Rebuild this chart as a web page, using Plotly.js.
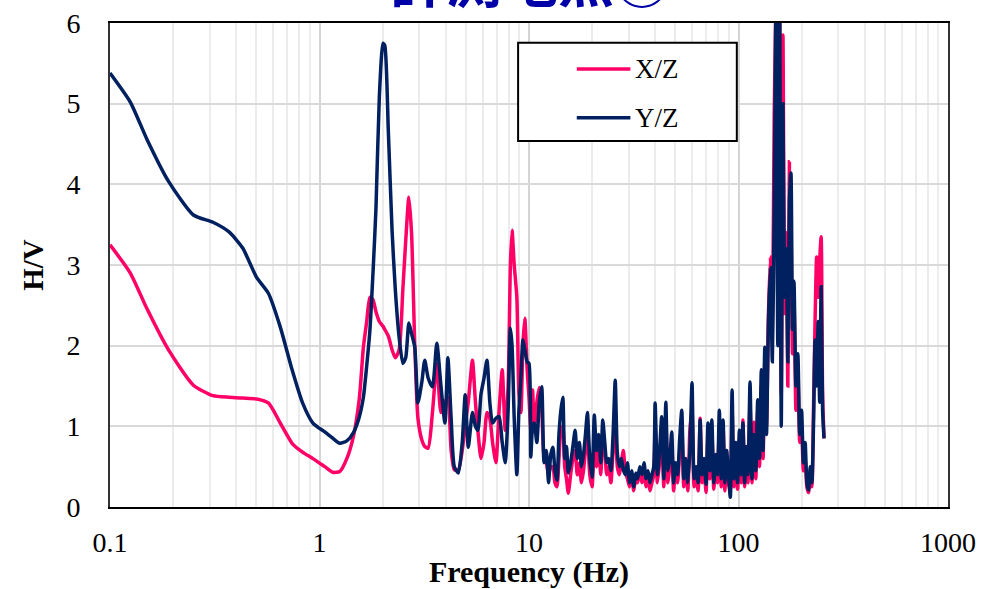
<!DOCTYPE html>
<html>
<head>
<meta charset="utf-8">
<script src="https://cdn.plot.ly/plotly-3.0.1.min.js"></script>
<style>
html,body{margin:0;padding:0;background:#fff;}
#chart{width:983px;height:589px;}
</style>
</head>
<body>
<div id="chart"></div>
<script>
// ---- data ----
const chartTitle = "計測地点③";
const seriesNames = ["X/Z", "Y/Z"];
const xTickVals = [0.1, 1, 10, 100, 1000];
const xTickText = ["0.1", "1", "10", "100", "1000"];

const freqHz = [
  0.10, 0.125, 0.15, 0.19, 0.25, 0.31, 0.37, 0.43, 0.50, 0.57, 0.65, 0.74, 0.83, 0.93, 1.06, 1.16, 1.25, 1.35, 1.45,
  1.55, 1.62, 1.68, 1.74, 1.80, 1.86, 1.93, 2.01, 2.05, 2.13, 2.22, 2.30, 2.40, 2.50, 2.58, 2.67, 2.75, 2.85, 2.95, 3.08,
  3.18, 3.30, 3.46, 3.63, 3.80, 3.97, 4.10, 4.25, 4.40, 4.60, 4.80, 4.96, 5.13, 5.37, 5.55, 5.70, 5.90, 6.10, 6.30, 6.50,
  6.70, 6.95, 7.20, 7.45, 7.70, 7.95, 8.15, 8.30, 8.50, 8.75, 8.95, 9.15, 9.35, 9.55, 9.80,
  10.0, 10.2, 10.4, 10.6, 10.9, 11.2, 11.5, 11.8, 12.1, 12.4, 12.7, 13.0, 13.3, 13.6, 13.9, 14.2, 14.5, 14.8, 15.1, 15.4,
  15.8, 16.2, 16.6, 17.0, 17.4, 17.8, 18.2, 18.6, 19.0, 19.5, 20.0, 20.5, 21.0, 21.5, 22.0, 22.5, 23.0, 23.5, 24.0, 24.6,
  25.2, 25.8, 26.4, 27.0, 27.6, 28.2, 28.8, 29.5, 30.2, 30.9, 31.6, 32.3, 33.0, 33.8, 34.6, 35.4, 36.2, 37.0, 37.8, 38.6, 39.4,
  40, 41, 42, 43, 44, 45, 46, 47, 48, 49, 50, 51.2, 52.4, 53.6, 54.8, 56, 57.3, 58.6, 60, 61.4, 62.8, 64.2, 65.6, 67,
  68.5, 70, 71.5, 73, 74.6, 76.2, 77.8, 79.4, 81, 82.7, 84.4, 86.1, 87.8, 89.6, 91.4, 93.2, 95, 97, 99, 101, 103, 105, 107, 109, 111,
  113.5, 116, 118.5, 121, 123.5, 126, 128.5, 131, 133.5, 136, 139, 142, 145, 148, 151, 154, 157, 160, 163, 166, 169, 172, 175, 178, 181, 184,
  188, 192, 196, 200, 204, 208, 212, 216, 220, 224, 228, 232, 236, 240, 244, 248, 252, 256
];

const xzRatio = [
  3.25, 2.90, 2.46, 1.95, 1.51, 1.38, 1.36, 1.35, 1.34, 1.29, 1.04, 0.79, 0.68, 0.60, 0.50, 0.43, 0.44, 0.60, 0.87,
  1.35, 1.98, 2.30, 2.60, 2.57, 2.42, 2.30, 2.24, 2.20, 2.12, 1.95, 1.85, 1.95, 2.70, 3.30, 3.84, 3.40, 2.00, 1.10, 0.83,
  0.75, 0.73, 1.17, 1.78, 1.17, 1.30, 1.36, 0.70, 0.46, 0.46, 0.70, 1.00, 1.30, 1.82, 1.30, 0.95, 0.60, 0.80, 1.17, 1.10,
  0.80, 0.55, 1.20, 1.70, 0.95, 1.50, 3.00, 3.43, 3.00, 2.60, 1.40, 1.17, 2.00, 2.34, 1.70,
  1.36, 0.95, 1.45, 0.95, 1.30, 1.48, 1.20, 0.62, 0.55, 0.40, 0.50, 0.50, 0.30, 0.25, 0.60, 0.95, 1.00, 0.50, 0.35, 0.17,
  0.40, 0.60, 0.70, 0.40, 0.55, 0.30, 0.45, 0.70, 0.90, 0.40, 0.25, 0.80, 0.50, 0.75, 0.40, 0.85, 0.70, 0.40, 0.50, 0.30,
  0.70, 1.00, 0.50, 0.40, 0.55, 0.70, 0.45, 0.35, 0.25, 0.40, 0.20, 0.35, 0.30, 0.45, 0.30, 0.40, 0.25, 0.35, 0.20, 0.30, 0.40,
  1.00, 0.30, 0.55, 0.95, 0.25, 1.10, 0.30, 0.50, 0.80, 0.20, 0.45, 0.30, 0.70, 1.00, 0.25, 0.50, 0.20, 0.95, 1.20, 0.25, 0.40, 0.20, 1.10, 0.30,
  0.50, 0.18, 0.90, 0.35, 0.95, 0.22, 0.55, 0.30, 1.00, 0.25, 1.00, 0.20, 0.60, 0.30, 0.20, 1.20, 0.25, 0.70, 0.22, 0.85, 0.30, 1.08, 0.25, 0.65, 0.30,
  1.30, 0.30, 1.05, 0.35, 1.20, 0.50, 1.50, 0.60, 1.80, 1.00, 2.40, 3.10, 2.20, 4.80, 6.20, 3.00, 6.40, 1.40, 5.85, 2.40, 3.40, 1.50, 4.28, 3.60, 1.90, 2.60,
  1.20, 1.70, 0.80, 1.00, 0.45, 0.60, 0.25, 0.18, 0.40, 0.25, 1.20, 2.30, 3.10, 2.60, 3.05, 3.35, 1.40, 0.85
];

const yzRatio = [
  5.38, 5.02, 4.56, 4.04, 3.62, 3.53, 3.41, 3.21, 2.85, 2.65, 2.23, 1.70, 1.29, 1.04, 0.93, 0.85, 0.79, 0.82, 0.92,
  1.12, 1.36, 1.75, 2.19, 2.90, 3.70, 5.08, 5.75, 5.72, 4.67, 3.43, 2.70, 2.10, 1.78, 1.85, 2.28, 2.15, 1.98, 1.29, 1.55,
  1.82, 1.60, 1.49, 2.03, 1.50, 1.04, 1.85, 1.10, 0.50, 0.42, 0.80, 1.39, 0.74, 1.17, 1.00, 0.95, 1.40, 1.60, 1.82, 1.30,
  1.04, 1.10, 1.12, 0.80, 0.55, 1.20, 2.22, 2.00, 1.10, 0.40, 1.20, 1.60, 2.07, 1.95, 1.80,
  1.78, 0.62, 0.99, 1.04, 0.80, 1.30, 1.49, 0.55, 0.70, 0.30, 0.65, 0.74, 0.45, 0.33, 0.90, 1.20, 1.36, 0.60, 0.75, 0.42,
  0.55, 0.75, 0.95, 0.60, 0.80, 0.50, 0.65, 0.90, 1.17, 0.60, 0.37, 1.14, 0.70, 0.90, 0.55, 1.08, 0.80, 0.55, 0.60, 0.45,
  0.90, 1.57, 0.67, 0.50, 0.60, 0.46, 0.40, 0.55, 0.30, 0.45, 0.25, 0.42, 0.35, 0.50, 0.40, 0.55, 0.35, 0.45, 0.30, 0.40, 0.50,
  1.29, 0.40, 0.70, 1.12, 0.35, 1.30, 0.45, 0.60, 0.93, 0.30, 0.55, 0.40, 0.85, 1.20, 0.35, 0.60, 0.30, 0.70, 1.54, 0.35, 0.50, 0.30, 1.08, 0.40,
  0.60, 0.28, 1.04, 0.45, 1.08, 0.30, 0.65, 0.40, 1.20, 0.35, 1.08, 0.30, 0.70, 0.40, 0.12, 1.45, 0.35, 0.80, 0.30, 0.95, 0.40, 1.04, 0.30, 0.75, 0.40,
  1.55, 0.35, 0.90, 0.45, 1.33, 0.60, 1.70, 0.70, 1.98, 0.90, 2.30, 2.97, 1.80, 3.60, 6.30, 2.00, 6.50, 1.00, 5.00, 2.60, 3.20, 1.80, 3.80, 4.14, 2.20, 2.80,
  1.50, 1.90, 0.90, 1.20, 0.55, 0.80, 0.30, 0.21, 0.50, 0.30, 1.00, 2.07, 1.50, 2.30, 1.30, 2.73, 1.20, 0.85
];

const seriesColors = ["#FF0066", "#002060"];

// ---- chart ----
const serif = "Liberation Serif, Times New Roman, serif";

const traces = [
  {x: freqHz, y: xzRatio, name: seriesNames[0], type: "scatter", mode: "lines",
   line: {color: seriesColors[0], width: 3.5, shape: "spline", smoothing: 0.6}, showlegend: false},
  {x: freqHz, y: yzRatio, name: seriesNames[1], type: "scatter", mode: "lines",
   line: {color: seriesColors[1], width: 3.5, shape: "spline", smoothing: 0.6}, showlegend: false}
];

// custom legend box (paper coordinates)
const lgX0 = 0.487, lgX1 = 0.748, lgY0 = 0.756, lgY1 = 0.959;
const lgRows = [0.905, 0.804];
const shapes = [
  {type: "rect", xref: "paper", yref: "paper", x0: lgX0, x1: lgX1, y0: lgY0, y1: lgY1,
   line: {color: "#000", width: 2}, fillcolor: "#fff", layer: "above"}
];
const annotations = [
  {text: chartTitle, xref: "paper", yref: "paper", x: 0.501, y: 1.006, xanchor: "center", yanchor: "bottom",
   showarrow: false, font: {family: "Noto Sans CJK JP", size: 56, color: "#0000A8", weight: 700}}
];
seriesNames.forEach(function (nm, i) {
  shapes.push({type: "line", xref: "paper", yref: "paper", x0: 0.557, x1: 0.621, y0: lgRows[i], y1: lgRows[i],
    line: {color: seriesColors[i], width: 3.5}, layer: "above"});
  annotations.push({text: nm, xref: "paper", yref: "paper", x: 0.624, y: lgRows[i], xanchor: "left", yanchor: "middle",
    showarrow: false, font: {family: serif, size: 27, color: "#000"}});
});

const layout = {
  width: 983, height: 589,
  margin: {l: 110, r: 35, t: 23, b: 82},
  paper_bgcolor: "#fff", plot_bgcolor: "#fff",
  showlegend: false,
  xaxis: {
    type: "log", range: [-1, 3],
    tickvals: xTickVals, ticktext: xTickText,
    tickfont: {family: serif, size: 28, color: "#000"},
    ticks: "", ticklabelstandoff: 9,
    showgrid: true, gridcolor: "#d4d4d4", gridwidth: 2,
    minor: {dtick: "D1", showgrid: true, gridcolor: "#ececec", gridwidth: 2, ticks: ""},
    showline: true, linecolor: "#000", linewidth: 2, mirror: true,
    zeroline: false,
    title: {text: "<b>Frequency (Hz)</b>", font: {family: serif, size: 30, color: "#000"}, standoff: 4}
  },
  yaxis: {
    range: [0, 6], dtick: 1,
    tickfont: {family: serif, size: 28, color: "#000"},
    ticks: "", ticklabelstandoff: 22,
    showgrid: true, gridcolor: "#d9d9d9", gridwidth: 2,
    showline: true, linecolor: "#333", linewidth: 2, mirror: true,
    zeroline: false,
    title: {text: "<b>H/V</b>", font: {family: serif, size: 29, color: "#000"}, standoff: 14}
  },
  shapes: shapes,
  annotations: annotations
};

Plotly.newPlot("chart", traces, layout, {displayModeBar: false, staticPlot: true});
</script>
</body>
</html>
